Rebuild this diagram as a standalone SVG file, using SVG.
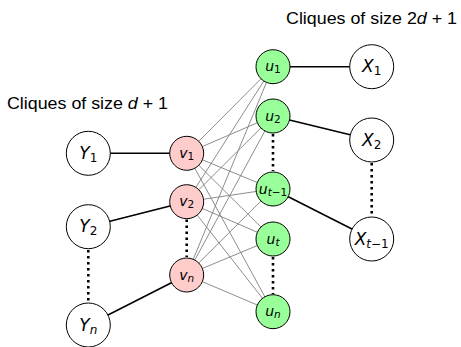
<svg xmlns="http://www.w3.org/2000/svg" width="461" height="347" viewBox="0 0 461 347">
<style>
.big{fill:#fff;stroke:#000;stroke-width:1}
.v{fill:#ffcccc;stroke:#000;stroke-width:1}
.u{fill:#99ff99;stroke:#000;stroke-width:1}
.g{stroke:#808080;stroke-width:0.9}
.b{stroke:#000;stroke-width:1.6}
.d{stroke:#000;stroke-width:2.6;stroke-dasharray:2.6 3.4}
text{font-family:"DejaVu Sans","Liberation Sans",sans-serif;fill:#000}
.lab{font-family:"Liberation Sans","DejaVu Sans",sans-serif;font-size:16px}
.m{font-style:italic;text-anchor:middle}
.L{font-size:17px}
.S{font-size:14px}
</style>
<rect width="461" height="347" fill="#fff"/>
<g id="connectors">
<g class="g">
<line x1="186.7" y1="153.3" x2="273" y2="66.7"/><line x1="186.7" y1="153.3" x2="273" y2="116"/><line x1="186.7" y1="153.3" x2="273" y2="189"/><line x1="186.7" y1="153.3" x2="273" y2="239"/><line x1="186.7" y1="153.3" x2="273" y2="311.7"/>
<line x1="186.7" y1="201.7" x2="273" y2="66.7"/><line x1="186.7" y1="201.7" x2="273" y2="116"/><line x1="186.7" y1="201.7" x2="273" y2="189"/><line x1="186.7" y1="201.7" x2="273" y2="239"/><line x1="186.7" y1="201.7" x2="273" y2="311.7"/>
<line x1="186.7" y1="275" x2="273" y2="66.7"/><line x1="186.7" y1="275" x2="273" y2="116"/><line x1="186.7" y1="275" x2="273" y2="189"/><line x1="186.7" y1="275" x2="273" y2="239"/><line x1="186.7" y1="275" x2="273" y2="311.7"/>
</g>
<g class="b">
<line x1="88.3" y1="153.3" x2="186.7" y2="153.3"/>
<line x1="88.3" y1="226.7" x2="186.7" y2="201.7"/>
<line x1="88.3" y1="325" x2="186.7" y2="275"/>
<line x1="273" y1="66.7" x2="371.7" y2="66.7"/>
<line x1="273" y1="116" x2="371.7" y2="140"/>
<line x1="273" y1="189" x2="371.7" y2="239"/>
</g>
<g class="d">
<line x1="88.3" y1="250" x2="88.3" y2="302"/>
<line x1="186.7" y1="219.5" x2="186.7" y2="257"/>
<line x1="273" y1="134" x2="273" y2="171"/>
<line x1="273" y1="257" x2="273" y2="294"/>
<line x1="371.7" y1="163" x2="371.7" y2="216"/>
</g>
</g>
<text class="lab" x="286" y="23.5" textLength="171" lengthAdjust="spacingAndGlyphs">Cliques of size 2<tspan font-style="italic">d</tspan> + 1</text>
<text class="lab" x="7" y="108.5" textLength="161" lengthAdjust="spacingAndGlyphs">Cliques of size <tspan font-style="italic">d</tspan> + 1</text>
<g id="Y1"><circle class="big" cx="88.3" cy="153.3" r="22"/><text class="m L" x="88.3" y="159">Y<tspan font-size="12" font-style="normal" dy="3">1</tspan></text></g>
<g id="Y2"><circle class="big" cx="88.3" cy="226.7" r="22"/><text class="m L" x="88.3" y="232.4">Y<tspan font-size="12" font-style="normal" dy="3">2</tspan></text></g>
<g id="Yn"><circle class="big" cx="88.3" cy="325" r="22"/><text class="m L" x="88.3" y="330.7">Y<tspan font-size="12" dy="3">n</tspan></text></g>
<g id="v1"><circle class="v" cx="186.7" cy="153.3" r="17"/><text class="m S" x="186.7" y="158">v<tspan font-size="10.5" font-style="normal" dy="2">1</tspan></text></g>
<g id="v2"><circle class="v" cx="186.7" cy="201.7" r="17"/><text class="m S" x="186.7" y="206.4">v<tspan font-size="10.5" font-style="normal" dy="2">2</tspan></text></g>
<g id="vn"><circle class="v" cx="186.7" cy="275" r="17"/><text class="m S" x="186.7" y="279.7">v<tspan font-size="10.5" dy="2">n</tspan></text></g>
<g id="u1"><circle class="u" cx="273" cy="66.7" r="17"/><text class="m S" x="273" y="71.4">u<tspan font-size="10.5" font-style="normal" dy="2">1</tspan></text></g>
<g id="u2"><circle class="u" cx="273" cy="116" r="17"/><text class="m S" x="273" y="120.7">u<tspan font-size="10.5" font-style="normal" dy="2">2</tspan></text></g>
<g id="ut-1"><circle class="u" cx="273" cy="189" r="17"/><text class="m S" x="273" y="193.7">u<tspan font-size="10.5" dy="2">t</tspan><tspan font-size="10.5" font-style="normal">−1</tspan></text></g>
<g id="ut"><circle class="u" cx="273" cy="239" r="17"/><text class="m S" x="273" y="243.7">u<tspan font-size="10.5" dy="2">t</tspan></text></g>
<g id="un"><circle class="u" cx="273" cy="311.7" r="17"/><text class="m S" x="273" y="316.4">u<tspan font-size="10.5" dy="2">n</tspan></text></g>
<g id="X1"><circle class="big" cx="371.7" cy="66.7" r="22"/><text class="m L" x="371.7" y="72.4">X<tspan font-size="12" font-style="normal" dy="3">1</tspan></text></g>
<g id="X2"><circle class="big" cx="371.7" cy="140" r="22"/><text class="m L" x="371.7" y="145.7">X<tspan font-size="12" font-style="normal" dy="3">2</tspan></text></g>
<g id="Xt-1"><circle class="big" cx="371.7" cy="239" r="22"/><text class="m L" x="371.7" y="244.7">X<tspan font-size="12" dy="3">t</tspan><tspan font-size="12" font-style="normal">−1</tspan></text></g>
</svg>
